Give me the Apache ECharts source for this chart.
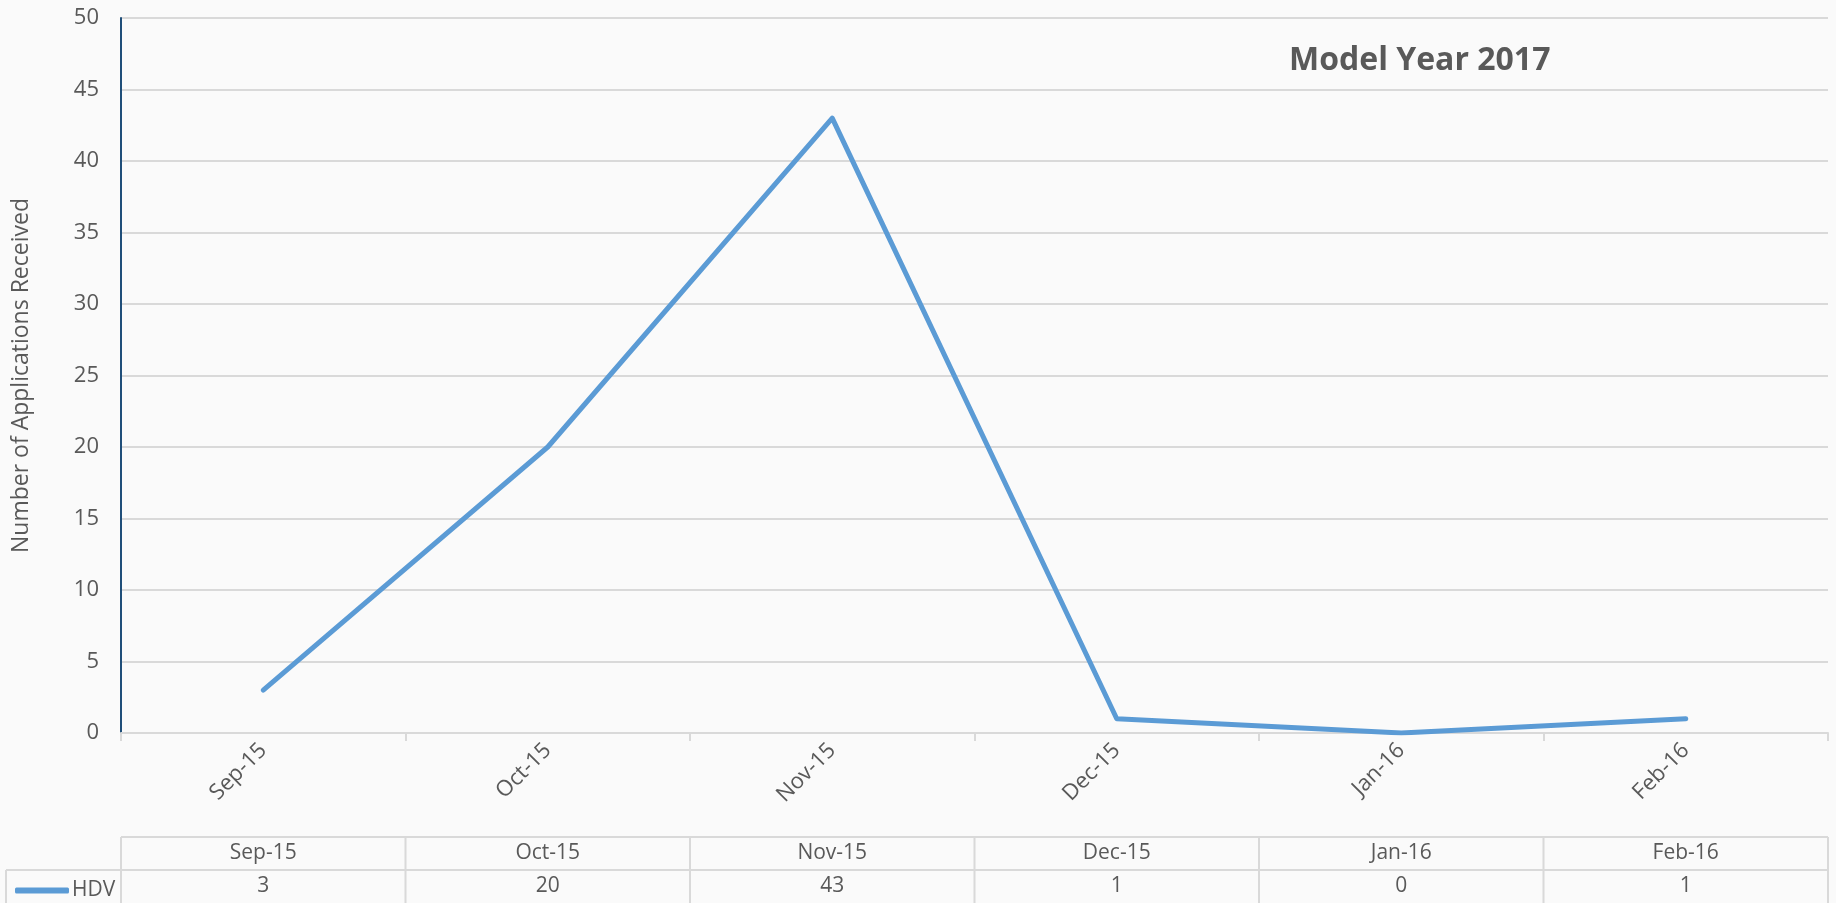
<!DOCTYPE html>
<html>
<head>
<meta charset="utf-8">
<script src="https://cdn.jsdelivr.net/npm/echarts@6/dist/echarts.min.js"></script>
<style>
html,body{margin:0;padding:0;background:#fafafa;}
#chart{width:1836px;height:903px;}
</style>
</head>
<body>
<div id="chart"></div>
<script>
var categories = ['Sep-15', 'Oct-15', 'Nov-15', 'Dec-15', 'Jan-16', 'Feb-16'];
var hdvValues = [3, 20, 43, 1, 0, 1];
var seriesName = 'HDV';
var titleText = 'Model Year 2017';
var yAxisName = 'Number of Applications Received';

var FONT = '"Open Sans", "Noto Sans", sans-serif';
var TXT = '#595959';
var GRIDC = '#d9d9d9';

var chart = echarts.init(document.getElementById('chart'), null, {renderer: 'canvas'});

var option = {
  backgroundColor: '#fafafa',
  animation: false,
  textStyle: {fontFamily: FONT},
  title: {
    text: titleText,
    left: 1284,
    top: 40,
    textStyle: {fontFamily: FONT, fontSize: 32, fontWeight: 'bold', color: TXT}
  },
  legend: {
    data: [seriesName],
    left: 10,
    top: 875,
    icon: 'roundRect',
    itemWidth: 54,
    itemHeight: 6,
    itemGap: 4,
    textStyle: {fontFamily: FONT, fontSize: 21, color: TXT, padding: [0, 0, 0, -2]}
  },
  grid: {left: 121, right: 8, top: 18, bottom: 170, containLabel: false},
  xAxis: [
    {
      type: 'category',
      data: categories,
      boundaryGap: true,
      axisLine: {show: true, lineStyle: {color: GRIDC, width: 2}},
      axisTick: {show: true, length: 8, lineStyle: {color: GRIDC, width: 2}},
      axisLabel: {rotate: 45, margin: 14, fontFamily: FONT, fontSize: 22, color: TXT}
    },
    {
      type: 'category',
      data: categories,
      position: 'bottom',
      offset: 103,
      axisLine: {show: false},
      axisTick: {show: false},
      axisLabel: {margin: 7, fontFamily: FONT, fontSize: 21, color: TXT}
    },
    {
      type: 'category',
      data: hdvValues.map(String),
      position: 'bottom',
      offset: 136,
      axisLine: {show: false},
      axisTick: {show: false},
      axisLabel: {margin: 7, fontFamily: FONT, fontSize: 21, color: TXT}
    }
  ],
  yAxis: {
    type: 'value',
    min: 0,
    max: 50,
    interval: 5,
    name: yAxisName,
    nameLocation: 'middle',
    nameGap: 88,
    nameTextStyle: {fontFamily: FONT, fontSize: 23, color: TXT},
    axisLine: {show: true, lineStyle: {color: '#1f4e79', width: 2}},
    axisTick: {show: false},
    axisLabel: {margin: 22, fontFamily: FONT, fontSize: 22, color: TXT},
    splitLine: {show: true, lineStyle: {color: GRIDC, width: 2}}
  },
  series: [{
    name: seriesName,
    type: 'line',
    data: hdvValues,
    xAxisIndex: 0,
    showSymbol: false,
    symbol: 'none',
    lineStyle: {color: '#5b9bd5', width: 5, cap: 'round', join: 'round'},
    itemStyle: {color: '#5b9bd5'}
  }]
};

chart.setOption(option);

// Build the data table grid lines from the category axis scale
var centers = categories.map(function (c, i) { return chart.convertToPixel({xAxisIndex: 0}, i); });
var step = centers.length > 1 ? centers[1] - centers[0] : 0;
var bounds = [centers[0] - step / 2];
centers.forEach(function (c) { bounds.push(c + step / 2); });
var left = bounds[0], right = bounds[bounds.length - 1];
var y0 = chart.convertToPixel({yAxisIndex: 0}, 0);
var tableTop = y0 + 104, rowMid = y0 + 137, tableBottom = 910;
var ls = {stroke: GRIDC, lineWidth: 2};
var g = [];
g.push({type: 'line', shape: {x1: left, y1: tableTop, x2: right, y2: tableTop}, style: ls, silent: true});
g.push({type: 'line', shape: {x1: 6, y1: rowMid, x2: right, y2: rowMid}, style: ls, silent: true});
g.push({type: 'line', shape: {x1: 6, y1: rowMid, x2: 6, y2: tableBottom}, style: ls, silent: true});
bounds.forEach(function (b) {
  g.push({type: 'line', shape: {x1: b, y1: tableTop, x2: b, y2: tableBottom}, style: ls, silent: true});
});
chart.setOption({graphic: g});
</script>
</body>
</html>
